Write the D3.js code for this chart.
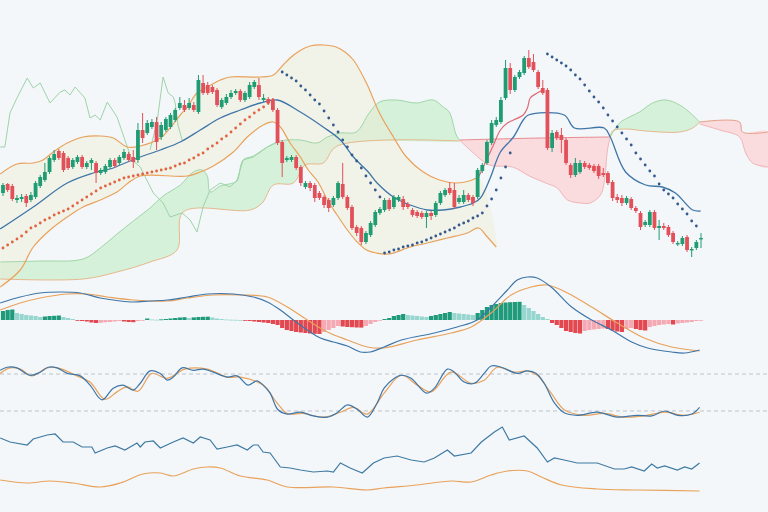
<!DOCTYPE html>
<html><head><meta charset="utf-8">
<script src="https://cdn.jsdelivr.net/npm/d3@7"></script>
<style>html,body{margin:0;padding:0;background:#f3f7fa;}svg{display:block}</style>
</head><body><svg id="c" width="768" height="512"></svg>
<script>
// ---- candles (price units) ----
const open=[87,96,94,80,81,84,80,83,94,100,108,120,129,127,122,113,118,123,113,117,117,107,108,113,120,117,122,126,123,120,150,147,153,158,143,150,153,160,172,175,172,175,168,197,195,193,190,173,177,183,187,189,180,183,193,195,180,181,180,170,138,120,120,123,113,93,97,95,87,83,80,75,82,96,83,73,53,52,38,45,55,67,70,80,73,80,81,76,70,68,67,63,67,65,77,85,92,90,78,78,85,83,83,109,117,137,155,158,182,212,190,203,207,222,218,208,192,190,132,148,145,140,115,105,108,117,115,114,114,107,107,98,83,82,77,81,72,67,55,55,68,52,54,53,47,36,36,43,30,32,41];
const close=[95,90,81,82,83,77,85,97,103,108,122,126,122,110,112,120,123,113,117,120,107,110,114,120,114,123,128,120,118,150,142,157,158,138,155,161,165,170,177,170,177,170,200,187,187,188,175,180,183,187,189,180,187,195,198,183,182,177,170,137,117,122,123,112,97,97,92,82,82,75,72,82,97,83,72,52,47,38,47,57,68,71,80,71,83,83,73,73,65,64,63,67,64,77,87,90,87,73,82,85,80,77,110,115,138,157,160,180,212,190,203,208,222,213,210,193,187,132,147,142,140,117,105,117,117,113,112,109,104,105,97,82,80,77,82,72,69,53,58,68,52,54,52,45,38,37,42,30,31,38,42];
const high=[97,97,96,85,86,86,88,99,105,117,124,130,131,129,124,122,125,125,119,122,119,112,116,122,122,125,131,128,130,157,167,160,161,163,158,163,167,172,183,180,182,178,205,205,198,195,192,182,186,190,191,191,189,198,200,202,186,183,182,172,140,124,125,125,115,99,99,97,89,85,82,84,99,117,85,75,55,54,49,59,70,73,82,82,85,85,84,78,72,70,69,69,69,79,89,92,98,97,85,90,87,85,112,117,140,160,163,183,220,217,205,210,224,230,226,210,200,192,150,150,152,142,117,122,120,119,117,116,116,112,109,100,86,85,84,83,74,69,60,70,70,60,57,55,49,39,44,45,33,40,47];
const low=[84,88,79,77,78,73,78,81,92,98,106,118,120,108,110,111,116,111,111,110,97,105,106,111,112,115,120,118,112,117,137,145,151,130,140,148,151,158,170,168,170,168,166,185,185,186,173,171,175,181,185,178,178,181,191,180,178,175,168,135,103,118,118,110,94,91,89,78,80,72,68,73,80,81,70,50,44,35,36,43,53,65,68,69,71,78,70,71,63,62,61,52,60,63,75,83,85,71,76,76,78,74,81,107,115,135,153,156,180,186,188,201,205,211,208,191,185,130,128,140,127,115,102,103,106,111,110,107,101,103,95,79,77,74,75,70,67,50,53,53,50,40,50,43,36,34,34,28,23,30,32];

// ---- parabolic SAR (per candle, with start index) ----
const sarRedStart=0, sarRed=[32,35,38,41,44,48,52,54,57,60,62,65,67,69,71,74,77,80,83,86,89,92,94,96,98,100,102,103,104,105,106,107,108,109,110,111,112,114,116,117,120,122,125,127,131,134,137,141,144,148,152,156,160,163,167,170,173,177,180];
const sarBlue1Start=60, sarBlue1=[208,205,202,199,194,190,185,180,176,169,162,155,148,140,133,125,119,112,104,97,90,83];
const sarBlue2Start=82, sarBlue2=[27,28,30,31,33,34,35,37,38,40,42,44,46,48,50,52,55,57,59,62,64,67,74,81,90,102,113,127];
const sarBlue3Start=117, sarBlue3=[226,223,220,217,214,210,205,201,195,189,183,178,172,165,159,153,147,141,135,127,121,115,109,104,96,90,86,82,76,71,66,59,54];

// ---- overlays [bar index, price] ----
const bbUpper=[[-0.6,106],[3,116],[6.5,117],[8.6,120],[10.8,128],[13.8,137],[17.2,143],[20.9,144],[23.7,142],[26.7,133],[29.5,134],[33.8,142],[35.9,152],[38.1,165],[39.6,173],[41.7,187],[43.9,193],[46.7,200],[48.8,203],[55.3,203],[58.1,205],[60.2,215],[61.7,222],[63.7,229],[66,234],[68.8,235],[71.6,233],[73.5,228],[75.3,220],[78.1,197],[80.9,167],[83.9,143],[86.7,123],[90.3,108],[93.8,100],[97.4,97],[100.2,99],[102.2,103]];
const bbLower=[[-0.6,-7],[3.7,10],[6.5,33],[10.1,50],[13.8,63],[17.2,73],[20.9,80],[24.5,88],[26.9,97],[29.5,104],[39.6,104],[42.4,108],[45.2,114],[49.5,128],[52.5,143],[55.9,155],[58.1,158],[59.6,153],[61.7,137],[63.9,123],[65.6,110],[67.7,98],[69.7,80],[71.8,65],[74,50],[76.1,38],[78.1,30],[80.2,27],[83,26],[87.5,33],[91.2,37],[95.5,42],[99.8,47],[102.2,52],[103.9,44],[106,33]];
const maLine=[[-0.6,51],[6.5,73],[13.8,97],[19.4,107],[23.7,112],[25.2,115],[29.5,123],[33.8,130],[38.1,138],[42.4,150],[46.7,162],[51,170],[55.3,177],[58.9,180],[63.9,168],[68.8,153],[72.5,140],[75.3,123],[78.5,108],[80.4,97],[83.9,83],[87.5,75],[91.2,70],[94.6,70],[98.3,73],[101.1,77],[102.6,82],[104.7,102],[106.9,128],[109.7,143],[111.8,160],[112.9,165],[120.6,165],[122.8,152],[129.2,152],[130.5,143],[133.8,108],[138.1,95],[141.7,93],[144.5,87],[148.2,70],[149.9,69]];
const tenkan=[[102.2,103],[103.9,120],[105.4,135],[106.9,150],[108.4,157],[109.7,160],[111.8,165],[112.7,172],[113.3,182],[114.8,187],[115.9,190]];
const chikouA=[[-0.6,133],[0.4,133],[1.5,167],[3,182],[5.2,202],[6.5,192],[8,197],[10.1,177],[12.3,188],[13.3,190],[14.4,185],[15.5,193],[17.6,182],[18.7,162],[19.8,165],[20.9,160],[22.4,178],[24.5,163],[26.2,140],[27.7,120],[29.5,113],[32.3,87],[34.4,77],[35.9,63],[38.5,67],[40.2,60],[41.7,48],[43,73],[44.5,90],[46.7,97],[48.8,93],[50.3,100],[51.6,120],[53.8,123],[56.8,133],[59.6,139]];
const chikouB=[[31.6,130],[33.1,158],[34.4,203],[35.5,187],[36.6,183],[37,177],[37.6,155],[38.5,140]];
const cloudG1Top=[[-0.6,18],[8,19],[17.2,21],[20.9,32],[24.5,46],[28,59],[31.6,72],[34.4,84],[38.1,95],[40.9,108],[42.8,110],[43.9,104],[44.5,88],[46.7,94],[49.5,97],[50.3,99],[51.6,120],[53.8,124],[56.8,133],[59.6,139],[63.9,140],[67.5,137],[69.7,143],[72.5,147],[75.9,148],[78.7,167],[80.9,178],[84.5,180],[88.8,177],[92.5,180],[94.6,173],[95.9,168],[97.4,145],[98.1,140]];
const cloudG1Bottom=[[-0.6,1],[17.2,1],[24.5,8],[31.6,18],[37.4,30],[38.7,68],[53.1,70],[55.7,77],[58.1,95],[62.4,97],[64.9,115],[68.8,117],[71.8,134],[98.1,139]];
const cloudR1Top=[[98.1,140],[115.5,142],[130.5,143]];
const cloudR1Bottom=[[98.1,140],[101.1,127],[104.5,115],[109.5,113],[113.1,104],[116.6,97],[119.1,92],[121.3,80],[124.1,77],[126.2,77],[128.4,85],[129.2,98],[129.9,130],[130.5,143]];
const cloudG2Top=[[130.5,143],[132.5,157],[134.6,163],[136.8,168],[139.6,177],[142.4,180],[145.4,175],[148.2,165],[149.7,158]];
const cloudG2Bottom=[[130.5,143],[131,149],[133.8,151],[138.1,149],[145.4,148],[148.2,152],[149.7,158]];
const cloudR2Top=[[149.7,158],[158.3,158],[158.9,148],[164.5,148]];
const cloudR2Bottom=[[149.7,156],[154,150],[158.3,143],[159.6,127],[161.1,117],[164.5,113]];

// ---- MACD ----
const macdLine=[[-0.6,17],[3.7,23],[8,27],[12.3,28],[16.6,27],[20.9,22],[25.2,19],[28,18],[31.6,19],[35.3,20],[39.6,23],[43.9,26],[49.5,26],[53.8,23],[56.8,18],[59.6,10],[62.4,0],[65.4,-10],[68.2,-18],[71,-22],[74,-26],[76.8,-32],[78.9,-32],[81.9,-27],[85.6,-20],[92.7,-13],[97.6,-7],[101.9,0],[104.9,13],[108.4,30],[110.5,40],[112.7,43],[114.8,42],[117.8,33],[122.2,13],[126.5,0],[130.8,-10],[135.1,-22],[138.5,-28],[143.7,-32],[146.5,-33],[149.7,-30]];
const signalLine=[[-0.6,10],[3.7,17],[8,22],[13.8,26],[18.1,26],[22.4,23],[28,20],[35.3,19],[39.6,22],[45.2,25],[51,25],[56.8,23],[61.1,13],[65.4,0],[69.7,-12],[74,-20],[78.3,-27],[81.9,-28],[89,-20],[96.3,-13],[100.6,-7],[104.9,7],[109.2,25],[113.5,33],[117,35],[121.3,27],[126.5,13],[132,-3],[137.8,-18],[143.7,-27],[149.7,-31]];
const histogram=[9,10,10.5,7,6,5,4.5,4,3,3.5,4,4.2,4.5,3,2,1,-0.5,-1,-1.5,-2.5,-3,-2.8,-2.3,-2,-1.5,-1,-1.5,-2,-2.2,-1,-0.5,1.5,0.5,0.3,0.6,1,1.5,2,2.5,2.8,2,2.6,3,3.2,3.3,2.5,1.5,1,0.5,0.3,0.2,0,-0.5,-1,-1.5,-2,-2.5,-3,-4,-5,-8,-10,-11,-12,-12.5,-13,-13.5,-13.8,-14,-12,-10,-8,-6,-6.5,-7,-7.2,-7.5,-7.6,-6,-4,-2,-0.5,1,2,4,5,6,5,4.5,4,3.5,3,4,5,6,7,8,7,6.5,6,5.5,5,7,10,13,15,16,17,17.5,17.8,18,18.2,15,12,9,6,3,1,-3,-5,-8,-11,-12,-13,-13.5,-11,-10,-9.5,-9,-8.5,-9,-10.5,-11.5,-12,-9,-8,-9,-10,-10.5,-7,-6,-5,-4.5,-4,-4.5,-3.5,-3,-2.5,-2,-1,-0.5];

// ---- Stochastic ----
const stochLevels=[80,20];
const stochK=[[-0.6,86],[0.9,91],[3,90],[5.8,78],[8,83],[9.7,91],[11.6,90],[13.8,81],[16.6,77],[18.7,62],[21.3,38],[23.7,57],[25.8,62],[28,54],[29.5,65],[31.6,85],[33.8,81],[35.3,70],[36.6,75],[38.5,90],[40.9,86],[43,88],[45.2,83],[48.2,75],[50.3,77],[52.7,62],[54.6,69],[55.9,62],[57.4,49],[59.1,22],[61.1,15],[63.9,18],[66.7,12],[69.7,10],[71.8,17],[74,30],[76.1,23],[78.3,10],[80.4,33],[81.9,57],[84.1,73],[85.6,78],[87.7,73],[91,49],[92.7,57],[95.5,88],[97,83],[99.1,67],[101.3,65],[103.4,81],[104.9,93],[107.1,91],[110.5,81],[112.7,85],[114.6,81],[116.3,65],[118.5,33],[120.6,17],[123.4,13],[127.7,18],[132,10],[136.3,13],[139.4,12],[142.2,20],[145,13],[148,15],[149.7,26]];
const stochD=[[-0.6,81],[1.5,90],[3.7,88],[6.2,77],[9.5,90],[11.8,90],[15.9,77],[18.7,67],[21.9,39],[24.5,51],[26.7,59],[29,52],[32,81],[35.3,73],[39.1,88],[43.9,88],[48.2,75],[51,75],[55.9,62],[58.9,33],[61.1,16],[64.5,16],[68.8,10],[72.5,18],[75.3,26],[78.3,15],[81.9,49],[85.6,78],[89,62],[92,51],[96.3,83],[100.6,65],[103.4,70],[106.2,91],[109.9,83],[112.7,85],[114.8,78],[117.8,49],[120.6,22],[124.9,13],[129.2,16],[133.5,10],[137.8,12],[142.2,18],[146.5,13],[149.7,18]];

// ---- bottom panel ----
const lowerBlue=[[-0.6,62],[1.5,58],[5.2,55],[6.5,61],[9.5,65],[11.2,66],[12.9,58],[15.1,58],[17,53],[19.1,53],[19.8,47],[22.4,52],[24.1,54],[26.2,50],[28.8,57],[29.5,53],[30.5,58],[32.3,59],[33.8,52],[36.6,58],[38.7,62],[40.9,57],[42.4,63],[44.5,60],[46,51],[48.2,53],[50.3,55],[52.5,50],[53.8,55],[54.8,55],[55.9,48],[57.4,47],[59.6,33],[61.7,32],[63.9,30],[66.7,28],[69.7,29],[71,28],[72.5,37],[74.6,32],[77.2,27],[79.6,37],[81.9,42],[84.7,44],[87.7,40],[90.5,38],[92.7,42],[95.5,50],[97,44],[100.6,47],[102.8,58],[105.6,68],[107.3,73],[108.8,60],[112,64],[114.8,52],[117,38],[118.5,42],[120.6,40],[123.4,37],[127.7,37],[131.4,31],[133.5,31],[135.1,33],[137.8,29],[139.4,36],[140.6,32],[142.2,34],[144.9,30],[146.5,33],[148,31],[149.7,37]];
const lowerOrange=[[-0.6,20],[5.2,17],[10.1,19],[15.1,17],[20.9,13],[25.2,17],[30.1,26],[33.8,27],[36.6,24],[40.9,31],[43.9,33],[46.7,32],[51,24],[56.8,20],[61.1,13],[71,13],[78.3,10],[81.9,12],[89,15],[96.3,19],[100.6,18],[104.9,25],[108.4,29],[112.7,29],[115.7,23],[120,15],[127.7,11],[136.3,10],[149.7,9]];

// ---------------- drawing ----------------
const svg=d3.select("#c");
const W=768,H=512;
svg.append("rect").attr("width",W).attr("height",H).attr("fill","#f3f7fa");
const x=d3.scaleLinear().domain([0,150]).range([3,701]);
const yP=d3.scaleLinear().domain([0,240]).range([280,40]);
const yM=d3.scaleLinear().domain([-40,40]).range([360,280]);
const yS=d3.scaleLinear().domain([0,100]).range([423.3,361.7]);
const yB=d3.scaleLinear().domain([0,80]).range([500,420]);
const curve=d3.curveCatmullRom.alpha(0.5);
const mk=(ys,c)=>d3.line().x(d=>x(d[0])).y(d=>ys(d[1])).curve(c||curve);
const lp=mk(yP);
const poly=(top,bot)=>lp(top.concat(bot.slice().reverse()))+"Z";

const gMain=svg.append("g");
const clouds=[[cloudG1Top,cloudG1Bottom,"#d3efd6","#9fd6a8","#e5b98c"],
  [cloudR1Top,cloudR1Bottom,"#fbd7da","#e98b90","#f1b5b8"],
  [cloudG2Top,cloudG2Bottom,"#d3efd6","#9fd6a8","#e5b98c"],
  [cloudR2Top,cloudR2Bottom,"#fbd7da","#e5a08a","#f1b5b8"]];
clouds.forEach(([t,b,f])=>gMain.append("path").attr("d",poly(t,b)).attr("fill",f).attr("opacity",0.9));
gMain.append("path").attr("d",poly(bbUpper,bbLower)).attr("fill","#efecd2").attr("opacity",0.45);
clouds.forEach(([t,b,f,ct,cb])=>{
  gMain.append("path").attr("d",lp(t)).attr("fill","none").attr("stroke",ct).attr("stroke-width",1);
  gMain.append("path").attr("d",lp(b)).attr("fill","none").attr("stroke",cb).attr("stroke-width",1);
});
[chikouA,chikouB].forEach(c=>gMain.append("path").attr("d",mk(yP,d3.curveLinear)(c)).attr("fill","none").attr("stroke","#9fd3a8").attr("stroke-width",1));
[bbUpper,bbLower].forEach(c=>gMain.append("path").attr("d",lp(c)).attr("fill","none").attr("stroke","#e9a25b").attr("stroke-width",1.2));
gMain.append("path").attr("d",lp(tenkan)).attr("fill","none").attr("stroke","#e06b76").attr("stroke-width",1.2);
gMain.append("path").attr("d",lp(maLine)).attr("fill","none").attr("stroke","#3f76a8").attr("stroke-width",1.3);
const sarSets=[[sarRed,sarRedStart,"#e2623f"],[sarBlue1,sarBlue1Start,"#34598c"],[sarBlue2,sarBlue2Start,"#34598c"],[sarBlue3,sarBlue3Start,"#34598c"]];
sarSets.forEach(([vals,s,col])=>{
  gMain.append("g").selectAll("circle").data(vals).join("circle")
   .attr("cx",(d,i)=>x(s+i)).attr("cy",d=>yP(d)).attr("r",1.4).attr("fill",col);
});
const idx=d3.range(open.length);
const cg=gMain.append("g");
const col=i=>close[i]>=open[i]?"#1f9c72":"#e2505a";
cg.selectAll("line").data(idx).join("line")
  .attr("x1",i=>x(i)).attr("x2",i=>x(i)).attr("y1",i=>yP(high[i])).attr("y2",i=>yP(low[i]))
  .attr("stroke",col).attr("stroke-width",1);
const bw=3.8;
cg.selectAll("rect").data(idx).join("rect")
  .attr("x",i=>x(i)-bw/2).attr("width",bw)
  .attr("y",i=>yP(Math.max(open[i],close[i])))
  .attr("height",i=>Math.max(1.4,Math.abs(yP(open[i])-yP(close[i]))))
  .attr("fill",col);

const gM=svg.append("g");
const hcol=(v,i)=>{const p=i>0?histogram[i-1]:v; if(v>=0) return v>=p?"#1f9a7a":"#97d6cf"; return v<=p?"#e3474f":"#f5a9b3";};
gM.selectAll("rect").data(histogram).join("rect")
  .attr("x",(d,i)=>x(i)-2.1).attr("width",4.2)
  .attr("y",d=>Math.min(yM(d),yM(0))).attr("height",d=>Math.max(0.8,Math.abs(yM(d)-yM(0))))
  .attr("fill",hcol);
gM.append("path").attr("d",mk(yM)(signalLine)).attr("fill","none").attr("stroke","#e9a25b").attr("stroke-width",1.2);
gM.append("path").attr("d",mk(yM)(macdLine)).attr("fill","none").attr("stroke","#3f76a8").attr("stroke-width",1.2);

const gS=svg.append("g");
gS.selectAll("line").data(stochLevels).join("line")
  .attr("x1",0).attr("x2",W).attr("y1",d=>yS(d)).attr("y2",d=>yS(d))
  .attr("stroke","#bcc3ca").attr("stroke-width",1).attr("stroke-dasharray","4,3");
gS.append("path").attr("d",mk(yS)(stochD)).attr("fill","none").attr("stroke","#e9a25b").attr("stroke-width",1.2);
gS.append("path").attr("d",mk(yS)(stochK)).attr("fill","none").attr("stroke","#3f76a8").attr("stroke-width",1.2);

const gB=svg.append("g");
gB.append("path").attr("d",mk(yB,d3.curveLinear)(lowerBlue)).attr("fill","none").attr("stroke","#3f7aa3").attr("stroke-width",1.2);
gB.append("path").attr("d",mk(yB)(lowerOrange)).attr("fill","none").attr("stroke","#e9a25b").attr("stroke-width",1.2);
</script></body></html>
